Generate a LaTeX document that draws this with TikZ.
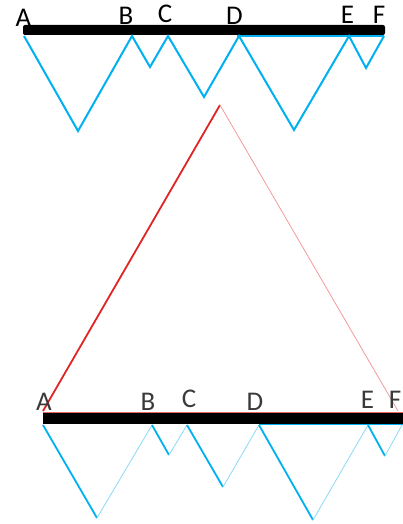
\documentclass[tikz,border=0pt]{standalone}
\usepackage{fontspec}
\setmainfont{Carlito}
\definecolor{skyb}{HTML}{00B0F0}
\definecolor{skyl}{HTML}{8AD9F7}
\definecolor{redd}{HTML}{E02424}
\definecolor{redl}{HTML}{F29A9A}
\definecolor{labg}{HTML}{3A3A3A}
\begin{document}
\begin{tikzpicture}[x=1pt,y=-1pt,
  lab/.style={anchor=base,inner sep=0pt,font=\fontsize{27}{27}\selectfont},
  labb/.style={anchor=base,inner sep=0pt,text=labg,font=\fontsize{27}{27}\selectfont},
  vline/.style={draw=skyb,line width=2pt,line join=miter},
  vthick/.style={draw=skyb,line width=1.8pt},
  vthin/.style={draw=skyl,line width=0.8pt},
  bar/.style={fill=black}]
\useasboundingbox (0,0) rectangle (402,524);
% ---------- top ----------
\fill[bar,rounded corners=2pt] (23,25) rectangle (385,35);
\draw[draw=skyb,line width=1.4pt] (237,36) -- (384,36);
\coordinate (tA) at (24,36);
\coordinate (tv1) at (78,131);
\coordinate (tB) at (132,36);
\coordinate (tv2) at (150,67);
\coordinate (tC) at (168,36);
\coordinate (tv3) at (204,97);
\coordinate (tD) at (239,36);
\coordinate (tv4) at (294,130);
\coordinate (tE) at (349,36);
\coordinate (tv5) at (366,68);
\coordinate (tF) at (384,36);
\draw[vline] (tA) -- (tv1) -- (tB) -- (tv2) -- (tC) -- (tv3) -- (tD) -- (tv4) -- (tE) -- (tv5) -- (tF);
\node[lab] (lA) at (23.5,27) {A};
\node[lab] (lB) at (126,25) {B};
\node[lab] (lC) at (165,23) {C};
\node[lab] (lD) at (234.5,25) {D};
\node[lab] (lE) at (347.5,24) {E};
\node[lab] (lF) at (379,24) {F};
% ---------- red triangle ----------
\coordinate (rApex) at (220,105);
\coordinate (rL) at (43,411);
\coordinate (rR) at (398,411);
\draw[draw=redd,line width=1.8pt] (rL) -- (rApex);
\draw[draw=redl,line width=0.8pt] (rApex) -- (rR);
% ---------- bottom ----------
\fill[bar] (43,413) rectangle (410,423.5);
\draw[draw=redd!70,line width=1pt] (43,412) -- (410,412);
\draw[draw=skyb,line width=1.4pt] (259,424.5) -- (410,424.5);
\coordinate (bA) at (43,425);
\coordinate (bv1) at (97,518);
\coordinate (bB) at (152,425);
\coordinate (bv2) at (169,455);
\coordinate (bC) at (187,425);
\coordinate (bv3) at (223,487);
\coordinate (bD) at (259,425);
\coordinate (bv4) at (313,520);
\coordinate (bE) at (368,425);
\coordinate (bv5) at (385,456);
\coordinate (bF) at (402,425);
\draw[vthick] (bA) -- (bv1);
\draw[vthin] (bv1) -- (bB);
\draw[vthick] (bB) -- (bv2);
\draw[vthin] (bv2) -- (bC);
\draw[vthick] (bC) -- (bv3);
\draw[vthin] (bv3) -- (bD);
\draw[vthick] (bD) -- (bv4);
\draw[vthin] (bv4) -- (bE);
\draw[vthick] (bE) -- (bv5);
\draw[vthin] (bv5) -- (bF);
\node[labb] (mA) at (44,410) {A};
\node[labb] (mB) at (148,410) {B};
\node[labb] (mC) at (189,407) {C};
\node[labb] (mD) at (255,410) {D};
\node[labb] (mE) at (367.5,408) {E};
\node[labb] (mF) at (395,408) {F};
\end{tikzpicture}
\end{document}
